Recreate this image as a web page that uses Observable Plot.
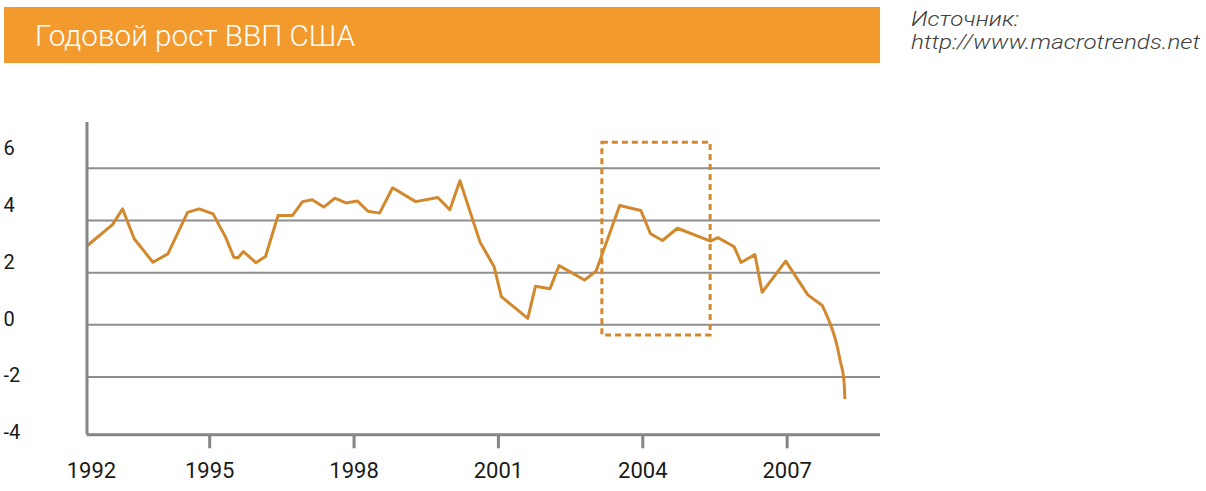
<!DOCTYPE html>
<html>
<head>
<meta charset="utf-8">
<script src="https://cdn.jsdelivr.net/npm/d3@7"></script>
<script src="https://cdn.jsdelivr.net/npm/@observablehq/plot@0.6"></script>
<style>
  html, body { margin: 0; padding: 0; background: #fff; }
  #root { position: relative; width: 1206px; height: 491px; overflow: hidden; font-family: Roboto, sans-serif; }
  #root > * { position: absolute; }
  #header { left: 0; top: 0; }
  #chart { left: 0; top: 100px; }
  #ylabels { left: 0; top: 0; }
</style>
</head>
<body>
<div id="root"></div>
<script>
// ---- data ----
const titleText = "Годовой рост ВВП США";
const sourceLines = ["Источник:", "http://www.macrotrends.net"];

const years = [1992.46,1992.98,1993.19,1993.43,1993.82,1994.13,1994.54,1994.78,1995.07,1995.33,
  1995.50,1995.59,1995.70,1995.96,1996.16,1996.42,1996.72,1996.93,1997.13,1997.37,
  1997.60,1997.83,1998.07,1998.29,1998.53,1998.80,1999.28,1999.74,1999.99,2000.20,
  2000.62,2000.91,2001.06,2001.61,2001.77,2002.07,2002.26,2002.79,2003.03,2003.52,
  2003.96,2004.16,2004.41,2004.72,2005.41,2005.56,2005.90,2006.04,2006.33,2006.48,
  2006.97,2007.43,2007.73,2007.87,2008.01,2008.11,2008.18,2008.20];
const growth = [3.04,3.84,4.44,3.30,2.40,2.72,4.31,4.44,4.25,3.36,
  2.59,2.57,2.81,2.38,2.62,4.19,4.19,4.72,4.79,4.51,
  4.85,4.67,4.74,4.35,4.28,5.25,4.72,4.88,4.41,5.52,
  3.16,2.23,1.08,0.25,1.48,1.38,2.27,1.72,2.06,4.57,
  4.38,3.49,3.23,3.70,3.21,3.34,2.99,2.39,2.69,1.25,
  2.44,1.15,0.74,0.16,-0.60,-1.43,-2.13,-2.84];
const smoothTailFrom = 2007.73; // the final plunge is drawn as a smooth curve

const xTicks = [1995, 1998, 2001, 2004, 2007];
const firstYearLabel = "1992";
const yTickValues = [-4, -2, 0, 2, 4, 6];
const gridValues = [-2, 0, 2, 4, 6];
const xDomain = [1992.45, 2008.94];
const yDomain = [-4.21, 7.75];
const highlightX = [2003.16, 2005.41];
const highlightY = [-0.41, 6.97];

// ---- colours ----
const lineColor = "#D2892E";
const bannerColor = "#F39A2F";
const axisColor = "#858585";
const gridColor = "#8e8e8e";

const root = document.getElementById("root");

// ---- header (banner, title, source) ----
const header = d3.create("svg").attr("id", "header").attr("width", 1206).attr("height", 75);
header.append("rect").attr("x", 4).attr("y", 7).attr("width", 876).attr("height", 56).attr("fill", bannerColor);
header.append("text").attr("x", 35).attr("y", 46)
  .attr("fill", "#fff").attr("font-family", "Roboto, sans-serif").attr("font-weight", 300)
  .attr("font-size", 29).attr("textLength", 320).attr("lengthAdjust", "spacingAndGlyphs")
  .text(titleText);
const srcY = [25.5, 49];
const srcW = [108, 289];
sourceLines.forEach((t, i) => {
  header.append("text").attr("x", 911).attr("y", srcY[i])
    .attr("fill", "#404040").attr("font-family", "Roboto, sans-serif").attr("font-style", "italic")
    .attr("font-weight", 300)
    .attr("font-size", 21).attr("textLength", srcW[i]).attr("lengthAdjust", "spacingAndGlyphs")
    .text(t);
});
root.appendChild(header.node());

// ---- main chart ----
const data = years.map((y, i) => ({year: y, value: growth[i]}));
const head = data.filter(d => d.year <= smoothTailFrom);
const tail = data.filter(d => d.year >= smoothTailFrom);
const highlight = [{x1: highlightX[0], x2: highlightX[1], y1: highlightY[0], y2: highlightY[1]}];

const chart = Plot.plot({
  width: 1206,
  height: 391,
  marginLeft: 86.5,
  marginRight: 326,
  marginTop: 22,
  marginBottom: 56.7,
  x: {domain: xDomain},
  y: {domain: yDomain, axis: null},
  style: {fontFamily: "Roboto, sans-serif", fontSize: "22px", color: "#1a1a1a", background: "transparent", overflow: "visible"},
  marks: [
    Plot.ruleY(gridValues, {stroke: gridColor, strokeWidth: 2}),
    Plot.rect(highlight, {x1: "x1", x2: "x2", y1: "y1", y2: "y2", fill: "none", stroke: lineColor, strokeWidth: 3, strokeDasharray: "6,4"}),
    Plot.line(head, {x: "year", y: "value", stroke: lineColor, strokeWidth: 3, strokeLinejoin: "round", strokeLinecap: "round"}),
    Plot.line(tail, {x: "year", y: "value", curve: "monotone-x", stroke: lineColor, strokeWidth: 3, strokeLinejoin: "round", strokeLinecap: "butt"}),
    Plot.axisX({ticks: xTicks, tickSize: 14, tickPadding: 14, tickFormat: d => String(d), stroke: axisColor, strokeWidth: 3, label: null}),
    Plot.text([years[0]], {x: d => d, text: () => firstYearLabel, frameAnchor: "bottom", lineAnchor: "top", dy: 28, dx: 4, fontSize: 22, fill: "#1a1a1a"}),
    Plot.ruleY([yDomain[0]], {stroke: axisColor, strokeWidth: 3}),
    Plot.ruleX([xDomain[0]], {stroke: axisColor, strokeWidth: 3})
  ]
});
chart.id = "chart";
root.appendChild(chart);

// ---- y tick labels (placed on their own scale, as in the reference) ----
const ylab = Plot.plot({
  width: 40,
  height: 491,
  marginTop: 148.5,
  marginBottom: 59,
  marginLeft: 0,
  marginRight: 0,
  y: {domain: [yTickValues[0], yTickValues[yTickValues.length - 1]], axis: null},
  style: {fontFamily: "Roboto, sans-serif", background: "transparent", overflow: "visible"},
  marks: [
    Plot.text(yTickValues, {y: d => d, text: d => String(d), frameAnchor: "left", textAnchor: "start", dx: 3, fontSize: 20, fill: "#1a1a1a"})
  ]
});
ylab.id = "ylabels";
root.appendChild(ylab);
</script>
</body>
</html>
